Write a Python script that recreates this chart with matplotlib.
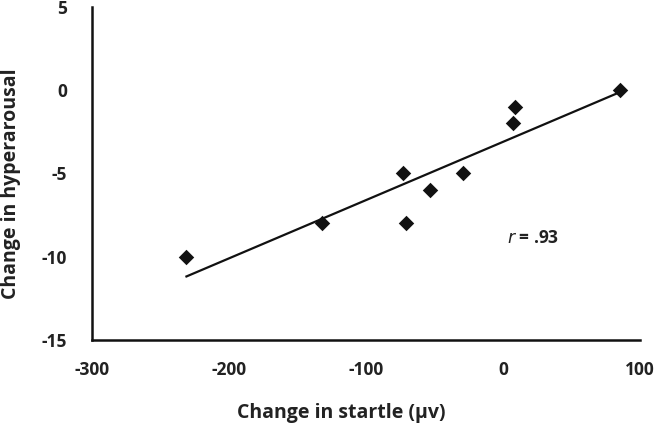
import matplotlib
matplotlib.use("Agg")
import matplotlib.pyplot as plt
import numpy as np

# -----------------------
# Data
# -----------------------
startle = [-231, -132, -73, -71, -53, -29, 7, 9, 85]
hyperarousal = [-10, -8, -5, -8, -6, -5, -2, -1, 0]
x_ticks = [-300, -200, -100, 0, 100]
y_ticks = [-15, -10, -5, 0, 5]

plt.rcParams["font.family"] = ["Open Sans", "DejaVu Sans"]
plt.rcParams["axes.unicode_minus"] = False

# -----------------------
# Plot
# -----------------------
fig = plt.figure(figsize=(6.56, 4.25), dpi=100)
ax = fig.add_axes([0.140, 0.200, 0.836, 0.784])

ax.scatter(startle, hyperarousal, marker="D", s=62, color="#111111",
           zorder=3, linewidths=0)

# least-squares trendline over the data range
slope, intercept = np.polyfit(startle, hyperarousal, 1)
xs = np.array([min(startle), max(startle)])
ax.plot(xs, slope * xs + intercept, color="#111111", linewidth=1.6, zorder=2)

ax.text(3, -8.9, r"$r$ = .93", fontsize=12.5, fontweight="bold",
        ha="left", va="center", color="#222222")

ax.set_xlim(-300, 100)
ax.set_ylim(-15, 5)
ax.set_xticks(x_ticks)
ax.set_yticks(y_ticks)

for s in ["top", "right"]:
    ax.spines[s].set_visible(False)
for s in ["left", "bottom"]:
    ax.spines[s].set_linewidth(1.8)
    ax.spines[s].set_color("#111111")

ax.tick_params(length=0, labelsize=12.5, labelcolor="#222222")
ax.tick_params(axis="x", pad=15)
ax.tick_params(axis="y", pad=18)
for lbl in ax.get_xticklabels() + ax.get_yticklabels():
    lbl.set_fontweight("bold")

# axis titles placed in figure coordinates
fig.text(341 / 656, 1 - 413 / 425, "Change in startle (μv)", fontsize=14,
         fontweight="bold", color="#222222", ha="center", va="center")
fig.text(11 / 656, 1 - 184 / 425, "Change in hyperarousal", fontsize=14,
         fontweight="bold", color="#222222", ha="center", va="center",
         rotation=90)

fig.savefig("out.png", dpi=100)
